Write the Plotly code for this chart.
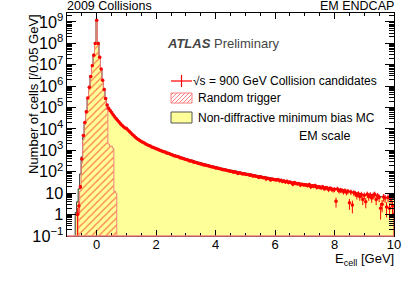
import math
import plotly.graph_objects as go

# ---------------- data (log10 of entries per 0.05 GeV bin) ----------------
BIN_WIDTH = 0.05
FIRST_CENTER = -0.70      # bin centre of first MC / data bin
RT_FIRST_CENTER = -0.65   # bin centre of first random-trigger bin
FLOOR = 1e-3

# Non-diffractive minimum bias MC, bins centred -0.70 ... 10.00
mc_log10 = [
    0.1, 0.6, 1.2, 1.9, 2.7, 3.6, 4.3, 4.85, 5.45, 6.0, 6.5, 7.0, 7.5, 8.05,
    9.1, 8.05, 7.4, 6.8, 6.3, 5.9, 5.45, 5.15, 5.0, 4.9, 4.8, 4.7, 4.6, 4.52, 4.44, 4.36, 4.28, 4.2, 4.13, 4.09,
    4.05, 3.98, 3.91, 3.84, 3.77, 3.71, 3.65, 3.59, 3.54, 3.49, 3.45, 3.41, 3.37, 3.33, 3.29, 3.26, 3.23, 3.2, 3.17, 3.14,
    3.12, 3.09, 3.06, 3.04, 3.01, 2.98, 2.96, 2.93, 2.91, 2.88, 2.85, 2.83, 2.80, 2.78, 2.76, 2.74, 2.71, 2.69, 2.67, 2.64,
    2.62, 2.60, 2.58, 2.56, 2.54, 2.52, 2.50, 2.48, 2.46, 2.44, 2.42, 2.40, 2.38, 2.36, 2.35, 2.33, 2.31, 2.29, 2.27, 2.26,
    2.24, 2.22, 2.21, 2.19, 2.17, 2.16, 2.14, 2.13, 2.11, 2.10, 2.08, 2.07, 2.05, 2.04, 2.03, 2.01, 2.00, 1.98, 1.97, 1.95,
    1.94, 1.93, 1.91, 1.90, 1.89, 1.87, 1.86, 1.85, 1.83, 1.82, 1.81, 1.80, 1.78, 1.77, 1.76, 1.74, 1.73, 1.72, 1.70, 1.69,
    1.68, 1.66, 1.66, 1.64, 1.62, 1.62, 1.60, 1.59, 1.57, 1.57, 1.55, 1.54, 1.52, 1.52, 1.50, 1.49, 1.48, 1.46, 1.45, 1.44,
    1.43, 1.42, 1.40, 1.40, 1.38, 1.37, 1.37, 1.35, 1.34, 1.33, 1.32, 1.31, 1.29, 1.29, 1.27, 1.26, 1.26, 1.24, 1.23, 1.22,
    1.21, 1.20, 1.18, 1.18, 1.16, 1.15, 1.14, 1.13, 1.12, 1.10, 1.09, 1.08, 1.06, 1.05, 1.03, 1.01, 0.99, 0.97, 0.95, 0.93,
    0.92, 0.92, 0.93, 0.94, 0.95, 0.94, 0.93, 0.91, 0.89, 0.87, 0.85, 0.84, 0.83, 0.82, 0.80, 0.79, 0.78, 0.77, 0.76, 0.75, 0.74,
]

# sqrt(s) = 900 GeV collision candidates, bins centred -0.70 ... 10.00
data_log10 = [
    None, 0.0, 0.4, 1.3, 2.6, 3.7, 4.3, 4.8, 5.45, 5.95, 6.45, 6.95, 7.45, 8.0,
    9.08, 8.0, 7.35, 6.8, 6.28, 5.85, 5.42, 5.12, 4.97, 4.87, 4.77, 4.67, 4.57, 4.49, 4.41, 4.33, 4.25, 4.17, 4.10, 4.05,
    4.02, 3.95, 3.88, 3.81, 3.74, 3.68, 3.62, 3.56, 3.51, 3.46, 3.42, 3.38, 3.34, 3.30, 3.26, 3.23, 3.20, 3.16, 3.13, 3.11,
    3.08, 3.05, 3.02, 3.00, 2.96, 2.94, 2.92, 2.88, 2.87, 2.84, 2.81, 2.79, 2.75, 2.74, 2.71, 2.70, 2.66, 2.65, 2.62, 2.60,
    2.57, 2.56, 2.52, 2.51, 2.50, 2.46, 2.45, 2.43, 2.40, 2.39, 2.37, 2.35, 2.32, 2.32, 2.29, 2.28, 2.26, 2.23, 2.22, 2.21,
    2.18, 2.18, 2.15, 2.14, 2.12, 2.09, 2.10, 2.07, 2.06, 2.04, 2.03, 2.01, 1.98, 2.00, 1.97, 1.92, 1.95, 1.93, 1.90, 1.91,
    1.89, 1.87, 1.87, 1.84, 1.85, 1.80, 1.82, 1.79, 1.78, 1.73, 1.77, 1.74, 1.72, 1.73, 1.66, 1.70, 1.68, 1.62, 1.66, 1.64,
    1.63, 1.62, 1.64, 1.58, 1.60, 1.55, 1.57, 1.52, 1.56, 1.50, 1.52, 1.49, 1.42, 1.50, 1.46, 1.44, 1.45, 1.38, 1.42, 1.40,
    1.40, 1.38, 1.36, 1.41, 1.30, 1.35, 1.33, 1.36, 1.28, 1.30, 1.29, 1.26, 1.30, 1.22, 1.25, 1.24, 1.18, 1.23, 1.20, 1.16,
    1.18, 0.62, 1.20, 1.12, 1.15, 1.13, 1.08, 1.12, 1.05, 1.09, 0.55, 1.06, 0.45, 1.02, 0.99, 0.90, 0.97, 0.85, 0.94, 0.70,
    0.90, 0.60, 0.95, 0.85, 0.92, 0.78, 0.90, 0.95, 0.70, 0.88, 0.80, 0.30, 0.48, 0.82, 0.78, 0.35, 0.80, 0.30, 0.72, 0.40, 0.0,
]

# Random trigger, bins centred -0.65 ... 0.65
rt_log10 = [
    None, 0.1, 1.1, 2.4, 3.5, 4.2, 4.75, 5.4, 5.95, 6.45, 6.95, 7.45, 8.0,
    9.08, 8.0, 7.35, 6.75, 6.25, 5.8, 5.35, 4.9, 3.3, 3.2, 3.2, 3.1, 1.1, 1.0,
]

x_tick_vals = [0, 2, 4, 6, 8, 10]

# ---------------- helpers ----------------
def centres(first, n):
    return [round(first + i * BIN_WIDTH, 4) for i in range(n)]

def step_outline(cents, logs):
    xs, ys = [cents[0] - BIN_WIDTH / 2], [FLOOR]
    for c, v in zip(cents, logs):
        y = FLOOR if v is None else 10 ** v
        xs += [c - BIN_WIDTH / 2, c + BIN_WIDTH / 2]
        ys += [y, y]
    xs.append(cents[-1] + BIN_WIDTH / 2)
    ys.append(FLOOR)
    return xs, ys

# plot area in pixels
L, R, T, B = 67, 394, 13, 236
W, H = 415, 281

def px(x):
    return (x - L) / (R - L)

def py(y):
    return (B - y) / (B - T)

FONT = "Liberation Sans, Arial, Helvetica, sans-serif"

fig = go.Figure()

# MC
mc_c = centres(FIRST_CENTER, len(mc_log10))
mx, my = step_outline(mc_c, mc_log10)
fig.add_trace(go.Scatter(x=mx, y=my, mode="lines", fill="toself",
                         fillcolor="#FFFF99", line=dict(color="#333333", width=1),
                         showlegend=False, hoverinfo="skip"))

# Random trigger
rt_c = centres(RT_FIRST_CENTER, len(rt_log10))
rx, ry = step_outline(rt_c, rt_log10)
fig.add_trace(go.Scatter(x=rx, y=ry, mode="lines", fill="toself",
                         fillcolor="rgba(0,0,0,0)",
                         fillpattern=dict(shape="/", fgcolor="#FF5030", fgopacity=0.75,
                                          bgcolor="rgba(0,0,0,0)", size=5, solidity=0.25,
                                          fillmode="overlay"),
                         line=dict(color="#F08080", width=1),
                         showlegend=False, hoverinfo="skip"))

# Data
d_c = centres(FIRST_CENTER, len(data_log10))
dx, dy, eup, edn = [], [], [], []
for c, v in zip(d_c, data_log10):
    if v is None:
        continue
    n = 10 ** v
    e = math.sqrt(n)
    dx.append(c)
    dy.append(n)
    eup.append(e)
    edn.append(n - max(n - e, FLOOR))
fig.add_trace(go.Scatter(x=dx, y=dy, mode="markers",
                         marker=dict(color="#FF0000", size=3.5, symbol="circle"),
                         error_y=dict(type="data", array=eup, arrayminus=edn, symmetric=False,
                                      color="#FF0000", thickness=1, width=0),
                         error_x=dict(type="constant", value=BIN_WIDTH / 2,
                                      color="#FF0000", thickness=1, width=0),
                         showlegend=False, hoverinfo="skip"))

# ---------------- layout ----------------
shapes = []
# pink bottom outline of the random-trigger histogram along the x axis
shapes.append(dict(type="line", xref="paper", yref="paper", x0=0, x1=1, y0=0, y1=0,
                   line=dict(color="#F08080", width=1.5), layer="above"))

# legend keys
# row 1: data cross
shapes.append(dict(type="line", xref="paper", yref="paper", x0=px(171), x1=px(192),
                   y0=py(81), y1=py(81), line=dict(color="#FF0000", width=1.2)))
shapes.append(dict(type="line", xref="paper", yref="paper", x0=px(181.5), x1=px(181.5),
                   y0=py(75), y1=py(87), line=dict(color="#FF0000", width=1.2)))
# row 2: hatched box
bx0, bx1, by0, by1 = 171, 192, 93, 103
k = bx0 + by0 + 2
while k < bx1 + by1:
    xa = max(bx0, k - by1)
    xb = min(bx1, k - by0)
    if xb > xa:
        shapes.append(dict(type="line", xref="paper", yref="paper",
                           x0=px(xa), y0=py(k - xa), x1=px(xb), y1=py(k - xb),
                           line=dict(color="#FF8080", width=1)))
    k += 4
shapes.append(dict(type="rect", xref="paper", yref="paper", x0=px(bx0), x1=px(bx1),
                   y0=py(by1), y1=py(by0), line=dict(color="#FF8080", width=1)))
# row 3: MC box
shapes.append(dict(type="rect", xref="paper", yref="paper", x0=px(171), x1=px(192),
                   y0=py(123), y1=py(112), fillcolor="#FFFF99",
                   line=dict(color="#555555", width=1)))

def ann(text, x, y, size=12, xanchor="left", yanchor="middle", color="#000", angle=0):
    return dict(text=text, x=px(x), y=py(y), xref="paper", yref="paper",
                xanchor=xanchor, yanchor=yanchor, showarrow=False, textangle=angle,
                font=dict(family=FONT, size=size, color=color), borderpad=0)

annotations = [
    ann("2009 Collisions", 66, 6, size=12.5),
    ann("EM ENDCAP", 395, 6, size=12.5, xanchor="right"),
    ann("<b><i>ATLAS</i></b> Preliminary", 166, 43, size=13, color="#444444"),
    ann("√s = 900 GeV Collision candidates", 192, 81, size=12),
    ann("Random trigger", 197, 98, size=12),
    ann("Non-diffractive minimum bias MC", 197, 117.5, size=12),
    ann("EM scale", 298, 136, size=12.5),
    ann("Number of cells [/0.05 GeV]", 33, 13, size=13, xanchor="center", yanchor="top", angle=-90),
    ann("E<sub>cell</sub> [GeV]", 395, 259, size=13, xanchor="right"),
]

fig.update_layout(
    width=W, height=H,
    margin=dict(l=L, r=W - R, t=T, b=H - B),
    paper_bgcolor="white", plot_bgcolor="white",
    showlegend=False, hovermode=False,
    font=dict(family=FONT, size=13, color="#000"),
    shapes=shapes, annotations=annotations,
    xaxis=dict(range=[-1, 10], tickvals=x_tick_vals, ticks="inside", ticklen=6,
               tickcolor="#000", showline=True, linecolor="#000", linewidth=1,
               mirror="ticks", showgrid=False, zeroline=False,
               tickfont=dict(size=13), ticklabelstandoff=-4,
               minor=dict(dtick=0.5, tick0=0, ticks="inside", ticklen=3, tickcolor="#000",
                          showgrid=False)),
    yaxis=dict(type="log", range=[-1, 9.42], dtick=1, exponentformat="power",
               ticks="inside", ticklen=9, tickcolor="#000", showline=True,
               linecolor="#000", linewidth=1, mirror="ticks", showgrid=False,
               zeroline=False, tickfont=dict(size=13),
               minor=dict(dtick="D1", ticks="inside", ticklen=5, tickcolor="#000",
                          showgrid=False)),
)

fig.write_html("out.html", config={"displayModeBar": False, "staticPlot": True},
               post_script="document.body.style.margin='0px';")
